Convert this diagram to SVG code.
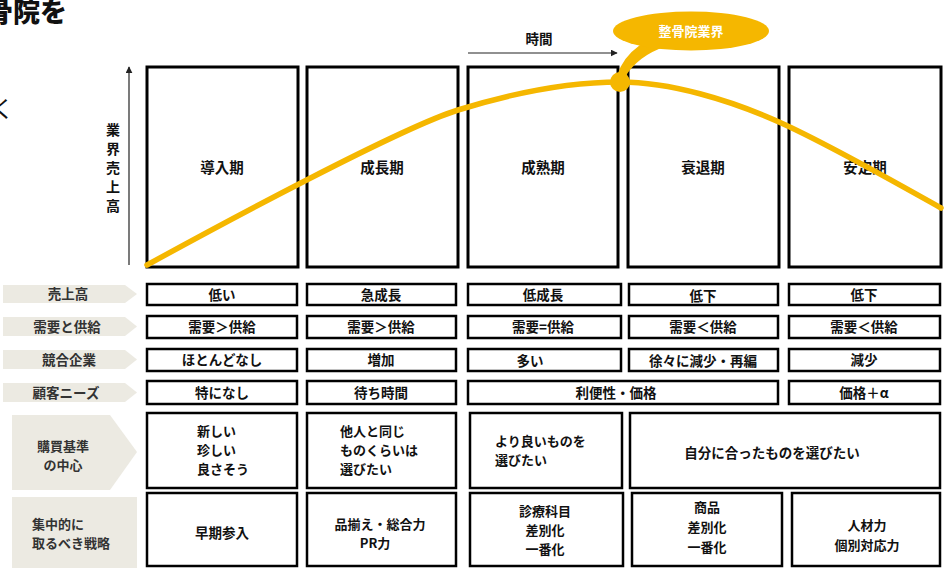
<svg xmlns="http://www.w3.org/2000/svg" width="945" height="568" viewBox="0 0 945 568">
<defs>
<marker id="ah" viewBox="0 0 10 10" refX="9" refY="5" markerWidth="7" markerHeight="7" markerUnits="userSpaceOnUse" orient="auto"><path d="M0,0 L10,5 L0,10 Z" fill="#222"/></marker>
<style>
text{font-family:"Noto Sans CJK JP","Liberation Sans",sans-serif;font-weight:bold;fill:#111;}
.t{font-size:13.5px;text-anchor:middle;}
.m{font-size:13px;text-anchor:middle;}
.tl{font-size:13px;}
.st{font-size:14.5px;text-anchor:middle;}
.stage{fill:#fff;stroke:#000;stroke-width:3;}
.cell{fill:#fff;stroke:#000;stroke-width:2.5;}
.lab{fill:#ECEAE2;stroke:none;}
.lt{font-size:13.5px;fill:#333;text-anchor:middle;}
.lm{font-size:13px;fill:#333;text-anchor:middle;}
.ax{stroke:#222;stroke-width:1.2;fill:none;}
</style>
</defs>
<rect width="945" height="568" fill="#fff"/>
<text x="-14" y="22" style="font-size:27px;font-weight:900;font-family:'Noto Sans CJK JP',serif">骨院を</text>
<text x="-9" y="117" style="font-size:23px;font-weight:normal">く</text>

<g id="stages">
<g id="stage1"><rect class="stage" x="147" y="67" width="151" height="200"/><text class="st" x="222" y="173">導入期</text></g>
<g id="stage2"><rect class="stage" x="307" y="67" width="151" height="200"/><text class="st" x="382" y="173">成長期</text></g>
<g id="stage3"><rect class="stage" x="468" y="67" width="150" height="200"/><text class="st" x="543" y="173">成熟期</text></g>
<g id="stage4"><rect class="stage" x="628" y="67" width="151" height="200"/><text class="st" x="703" y="173">衰退期</text></g>
<g id="stage5"><rect class="stage" x="789" y="67" width="152" height="200"/><text class="st" x="865" y="173">安定期</text></g>
</g>

<g id="connectors">
<line class="ax" x1="129" y1="265" x2="129" y2="67" marker-end="url(#ah)"/>
<line class="ax" x1="468" y1="53" x2="617" y2="53" marker-end="url(#ah)"/>
</g>

<g id="axis-labels">
<text class="t" x="113" style="font-size:14px"><tspan x="113" y="135">業</tspan><tspan x="113" y="154">界</tspan><tspan x="113" y="173">売</tspan><tspan x="113" y="192">上</tspan><tspan x="113" y="211">高</tspan></text>
<text class="t" x="539" y="44">時間</text>
</g>

<g id="curve">
<path d="M147,265 C220,225 400,128 458,110 S570,82 620,82 S730,100 779,122 S900,185 941,208" fill="none" stroke="#F5B700" stroke-width="5.5" stroke-linecap="round"/>
<circle cx="620" cy="82" r="10" fill="#F5B700"/>
</g>

<g id="callout">
<path d="M617,76 Q622,58 640,45 L664,47 Q638,56 625,77 Z" fill="#F5B700"/>
<ellipse cx="691" cy="31" rx="78" ry="19.5" fill="#F5B700"/>
<text class="t" x="691" y="36" style="fill:#fff;font-size:13px">整骨院業界</text>
</g>

<g id="row-labels">
<g id="lab1"><path class="lab" d="M3,285 H125 L137,294 L125,303 H3 Z"/><text class="lt" x="68" y="299">売上高</text></g>
<g id="lab2"><path class="lab" d="M3,317 H125 L137,326.5 L125,336 H3 Z"/><text class="lt" x="67" y="331.5">需要と供給</text></g>
<g id="lab3"><path class="lab" d="M3,350 H125 L137,359.5 L125,369 H3 Z"/><text class="lt" x="69" y="364.5">競合企業</text></g>
<g id="lab4"><path class="lab" d="M3,383 H125 L137,392.5 L125,402 H3 Z"/><text class="lt" x="66" y="397.5">顧客ニーズ</text></g>
<g id="lab5"><path class="lab" d="M12,415 H110 L137,452 L110,490 H12 Z"/><text class="lm" x="63" y="451">購買基準</text><text class="lm" x="63" y="470">の中心</text></g>
<g id="lab6"><rect class="lab" x="12" y="497" width="125" height="71"/><text class="lm" x="32" y="529" style="text-anchor:start">集中的に</text><text class="lm" x="32" y="548" style="text-anchor:start">取るべき戦略</text></g>
</g>

<g id="row1">
<g id="r1c1"><rect class="cell" x="147" y="284" width="150" height="21"/><text class="t" x="222" y="299.5">低い</text></g>
<g id="r1c2"><rect class="cell" x="307" y="284" width="149" height="21"/><text class="t" x="381" y="299.5">急成長</text></g>
<g id="r1c3"><rect class="cell" x="468" y="284" width="153" height="21"/><text class="t" x="543" y="299.5">低成長</text></g>
<g id="r1c4"><rect class="cell" x="629" y="284" width="149" height="21"/><text class="t" x="703" y="301">低下</text></g>
<g id="r1c5"><rect class="cell" x="789" y="284" width="151" height="21"/><text class="t" x="864" y="300">低下</text></g>
</g>
<g id="row2">
<g id="r2c1"><rect class="cell" x="147" y="316" width="150" height="22"/><text class="t" x="222" y="332">需要＞供給</text></g>
<g id="r2c2"><rect class="cell" x="307" y="316" width="149" height="22"/><text class="t" x="381" y="332">需要＞供給</text></g>
<g id="r2c3"><rect class="cell" x="468" y="316" width="153" height="22"/><text class="t" x="543" y="332">需要=供給</text></g>
<g id="r2c4"><rect class="cell" x="629" y="316" width="149" height="22"/><text class="t" x="703" y="332">需要＜供給</text></g>
<g id="r2c5"><rect class="cell" x="789" y="316" width="151" height="22"/><text class="t" x="864" y="332">需要＜供給</text></g>
</g>
<g id="row3">
<g id="r3c1"><rect class="cell" x="147" y="349" width="150" height="22"/><text class="t" x="222" y="365">ほとんどなし</text></g>
<g id="r3c2"><rect class="cell" x="307" y="349" width="149" height="22"/><text class="t" x="381" y="365">増加</text></g>
<g id="r3c3"><rect class="cell" x="468" y="349" width="153" height="22"/><text class="t" x="530" y="366">多い</text></g>
<g id="r3c4"><rect class="cell" x="629" y="349" width="149" height="22"/><text class="t" x="703" y="366">徐々に減少・再編</text></g>
<g id="r3c5"><rect class="cell" x="789" y="349" width="151" height="22"/><text class="t" x="864" y="365">減少</text></g>
</g>
<g id="row4">
<g id="r4c1"><rect class="cell" x="147" y="381" width="150" height="23"/><text class="t" x="222" y="397.5">特になし</text></g>
<g id="r4c2"><rect class="cell" x="307" y="381" width="149" height="23"/><text class="t" x="381" y="397.5">待ち時間</text></g>
<g id="r4c34"><rect class="cell" x="468" y="381" width="310" height="23"/><text class="t" x="616" y="397.5">利便性・価格</text></g>
<g id="r4c5"><rect class="cell" x="789" y="381" width="151" height="23"/><text class="t" x="864" y="398">価格＋α</text></g>
</g>
<g id="row5">
<g id="r5c1"><rect class="cell" x="147" y="413" width="150" height="75"/><text class="tl" x="197" y="436">新しい</text><text class="tl" x="197" y="455">珍しい</text><text class="tl" x="197" y="474">良さそう</text></g>
<g id="r5c2"><rect class="cell" x="307" y="413" width="149" height="75"/><text class="tl" x="340" y="436">他人と同じ</text><text class="tl" x="340" y="455">ものくらいは</text><text class="tl" x="340" y="474">選びたい</text></g>
<g id="r5c3"><rect class="cell" x="470" y="413" width="152" height="75"/><text class="tl" x="495" y="446">より良いものを</text><text class="tl" x="495" y="465">選びたい</text></g>
<g id="r5c45"><rect class="cell" x="630" y="413" width="310" height="75"/><text class="t" x="772" y="458">自分に合ったものを選びたい</text></g>
</g>
<g id="row6">
<g id="r6c1"><rect class="cell" x="147" y="493" width="150" height="73"/><text class="t" x="222" y="538">早期参入</text></g>
<g id="r6c2"><rect class="cell" x="307" y="493" width="149" height="73"/><text class="m" x="380" y="529">品揃え・総合力</text><text class="m" x="375" y="548">PR力</text></g>
<g id="r6c3"><rect class="cell" x="470" y="493" width="153" height="73"/><text class="m" x="545" y="516">診療科目</text><text class="m" x="545" y="535">差別化</text><text class="m" x="545" y="554">一番化</text></g>
<g id="r6c4"><rect class="cell" x="632" y="493" width="150" height="73"/><text class="m" x="707" y="512">商品</text><text class="m" x="707" y="532">差別化</text><text class="m" x="707" y="552">一番化</text></g>
<g id="r6c5"><rect class="cell" x="792" y="493" width="148" height="73"/><text class="m" x="867" y="530">人材力</text><text class="m" x="867" y="550">個別対応力</text></g>
</g>
</svg>
